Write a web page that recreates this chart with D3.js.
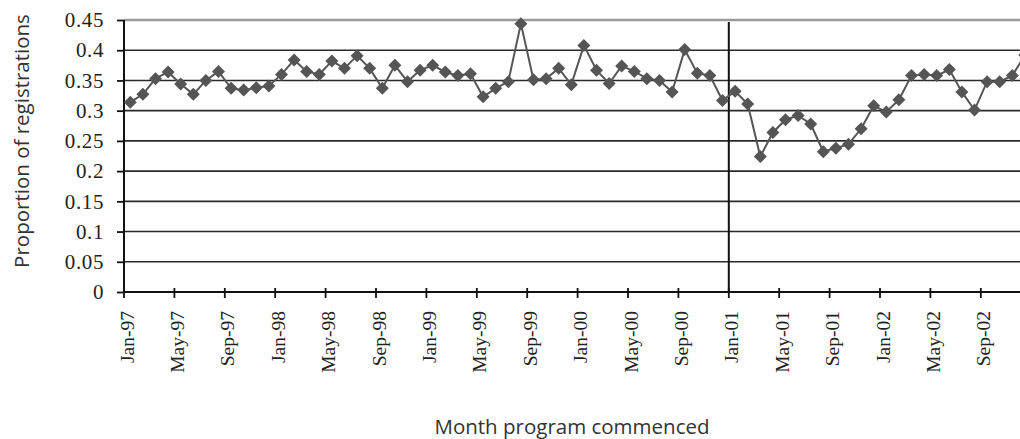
<!DOCTYPE html>
<html><head><meta charset="utf-8">
<script src="https://cdn.jsdelivr.net/npm/d3@7/dist/d3.min.js"></script>
<style>html,body{margin:0;padding:0;background:#fff;overflow:hidden}</style>
</head><body><svg id="chart" width="1020" height="439"></svg>
<script>
const categories = [
 "Jan-97","Feb-97","Mar-97","Apr-97","May-97","Jun-97","Jul-97","Aug-97","Sep-97","Oct-97","Nov-97","Dec-97",
 "Jan-98","Feb-98","Mar-98","Apr-98","May-98","Jun-98","Jul-98","Aug-98","Sep-98","Oct-98","Nov-98","Dec-98",
 "Jan-99","Feb-99","Mar-99","Apr-99","May-99","Jun-99","Jul-99","Aug-99","Sep-99","Oct-99","Nov-99","Dec-99",
 "Jan-00","Feb-00","Mar-00","Apr-00","May-00","Jun-00","Jul-00","Aug-00","Sep-00","Oct-00","Nov-00","Dec-00",
 "Jan-01","Feb-01","Mar-01","Apr-01","May-01","Jun-01","Jul-01","Aug-01","Sep-01","Oct-01","Nov-01","Dec-01",
 "Jan-02","Feb-02","Mar-02","Apr-02","May-02","Jun-02","Jul-02","Aug-02","Sep-02","Oct-02","Nov-02","Dec-02"
];
const proportion = [
 0.314,0.327,0.353,0.364,0.344,0.327,0.350,0.365,0.337,0.334,0.338,0.341,
 0.360,0.384,0.365,0.360,0.382,0.370,0.391,0.370,0.337,0.375,0.348,0.367,
 0.375,0.364,0.358,0.361,0.323,0.337,0.348,0.444,0.351,0.353,0.370,0.343,
 0.408,0.367,0.345,0.374,0.365,0.353,0.350,0.331,0.401,0.362,0.358,0.317,
 0.332,0.311,0.224,0.264,0.285,0.292,0.278,0.232,0.238,0.2445,0.270,0.308,
 0.298,0.318,0.358,0.360,0.358,0.368,0.331,0.301,0.348,0.348,0.358,0.392
];
const xTickLabels = ["Jan-97","May-97","Sep-97","Jan-98","May-98","Sep-98","Jan-99","May-99","Sep-99",
 "Jan-00","May-00","Sep-00","Jan-01","May-01","Sep-01","Jan-02","May-02","Sep-02"];
const yTicks = [0,0.05,0.1,0.15,0.2,0.25,0.3,0.35,0.4,0.45];
const yTickLabels = ["0","0.05","0.1","0.15","0.2","0.25","0.3","0.35","0.4","0.45"];
const markerLine = "Jan-01";
const yTitle = "Proportion of registrations";
const xTitle = "Month program commenced";

const svg = d3.select("#chart");
svg.append("rect").attr("width",1020).attr("height",439).attr("fill","#fff");

const x = d3.scaleBand().domain(categories).range([124, 1031.2]).padding(0);
const y = d3.scaleLinear().domain([0,0.45]).range([292,20]);

// gridlines
svg.append("g").selectAll("line").data(yTicks.filter(d=>d>0 && d<0.45)).join("line")
  .attr("x1",124).attr("x2",1020).attr("y1",d=>y(d)).attr("y2",d=>y(d))
  .attr("stroke","#2a2a2a").attr("stroke-width",1.6);
svg.append("line").attr("x1",124).attr("x2",1020).attr("y1",y(0.45)).attr("y2",y(0.45))
  .attr("stroke","#9a9a9a").attr("stroke-width",2.6);

// y axis
const yAxis = d3.axisLeft(y).tickValues(yTicks).tickSize(7).tickPadding(13)
  .tickFormat((d,i)=>yTickLabels[i]);
const gy = svg.append("g").attr("transform","translate(124,0)").call(yAxis);
gy.select(".domain").attr("stroke","#111").attr("stroke-width",2).attr("d","M0,"+y(0.45)+"V"+y(0));
gy.selectAll(".tick line").attr("stroke","#111").attr("stroke-width",1.8);
gy.selectAll(".tick text").attr("font-family","'Liberation Serif', serif").attr("font-size",21)
  .attr("fill","#222").attr("letter-spacing","0.6px");

// x axis
const gx = svg.append("g");
gx.append("line").attr("x1",124).attr("x2",1020).attr("y1",y(0)).attr("y2",y(0))
  .attr("stroke","#111").attr("stroke-width",2);
gx.selectAll("line.tk").data(xTickLabels).join("line").attr("class","tk")
  .attr("x1",d=>x(d)).attr("x2",d=>x(d)).attr("y1",y(0)-4).attr("y2",y(0)+6)
  .attr("stroke","#111").attr("stroke-width",1.8);
gx.selectAll("text").data(xTickLabels).join("text")
  .attr("transform",d=>`translate(${x(d)+3},311) rotate(-90)`)
  .attr("text-anchor","end").attr("dominant-baseline","central")
  .attr("font-family","'Liberation Serif', serif").attr("font-size",19.5).attr("fill","#222")
  .text(d=>d);

// vertical marker line
svg.append("line").attr("x1",x(markerLine)).attr("x2",x(markerLine)).attr("y1",y(0.45)+2).attr("y2",y(0))
  .attr("stroke","#111").attr("stroke-width",2);

// series
const cx = d => x(d) + x.bandwidth()/2;
const line = d3.line().x((d,i)=>cx(categories[i])).y(d=>y(d));
svg.append("path").datum(proportion).attr("d",line).attr("fill","none")
  .attr("stroke","#555").attr("stroke-width",2);
svg.append("g").selectAll("path").data(proportion).join("path")
  .attr("transform",(d,i)=>`translate(${cx(categories[i])},${y(d)})`)
  .attr("d","M0,-6.5L6.5,0L0,6.5L-6.5,0Z").attr("fill","#555");

// titles
svg.append("text").attr("transform","translate(29,141) rotate(-90)").attr("text-anchor","middle")
  .attr("font-family","'Open Sans', sans-serif").attr("font-size",20.5).attr("fill","#333").text(yTitle);
svg.append("text").attr("x",572).attr("y",434).attr("text-anchor","middle")
  .attr("font-family","'Open Sans', sans-serif").attr("font-size",20.5).attr("fill","#333").text(xTitle);
</script></body></html>
